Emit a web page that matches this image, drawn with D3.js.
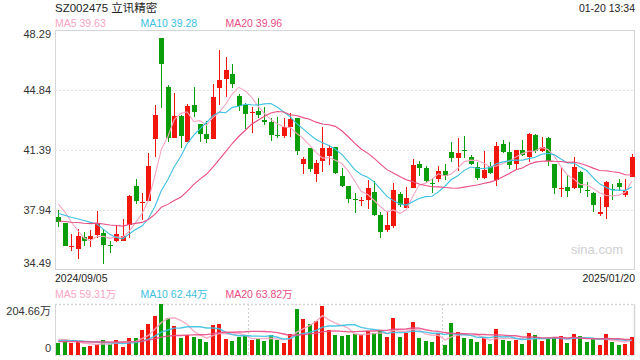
<!DOCTYPE html>
<html><head><meta charset="utf-8">
<script src="https://cdn.jsdelivr.net/npm/d3@7"></script>
<style>body{margin:0;background:#fff}svg{display:block;font-family:Arial,"Liberation Sans","Noto Sans CJK SC",sans-serif}</style>
</head><body><svg id="c" width="640" height="360"></svg>
<script>
const title = "SZ002475 立讯精密";
const timeLabel = "01-20 13:34";
const priceLegend = ["MA5 39.63", "MA10 39.28", "MA20 39.96"];
const volLegend = ["MA5 59.31万", "MA10 62.44万", "MA20 63.82万"];
const priceTicks = [48.29, 44.84, 41.39, 37.94, 34.49];
const volTicks = [204.66, 0];
const volTickLabels = ["204.66万", "0"];
const dateLabels = ["2024/09/05", "2025/01/20"];

const opens = [37.52,37.19,35.81,35.70,36.39,36.27,36.50,36.60,35.95,36.18,36.18,37.08,39.30,38.34,38.48,42.02,47.81,45.01,42.10,43.36,41.87,43.98,42.89,42.29,42.04,44.94,45.45,45.74,44.49,43.98,43.54,43.63,43.12,43.02,42.27,42.20,42.73,43.21,40.59,41.49,40.03,40.78,41.06,41.54,39.90,39.32,38.59,38.48,38.54,38.98,37.65,36.79,37.04,38.86,38.08,39.22,40.57,40.34,39.49,39.72,40.18,41.29,40.95,41.41,40.99,40.41,39.80,40.49,39.67,41.74,41.28,40.60,41.37,41.01,42.25,41.35,42.06,40.59,39.17,39.24,39.19,40.15,39.11,38.94,37.69,38.13,39.15,39.51,38.80,39.86];
const highs = [37.94,37.20,36.54,36.85,36.66,36.81,37.90,36.85,36.16,37.04,37.42,38.80,39.70,38.94,41.20,43.98,47.85,45.13,44.69,43.38,44.02,45.01,42.90,43.08,45.20,47.14,46.76,46.32,44.59,44.11,43.88,44.40,43.84,43.21,43.27,43.25,43.50,43.22,40.97,41.50,40.80,42.69,41.68,41.55,40.34,39.33,38.90,38.71,39.65,39.61,37.81,37.84,39.49,39.00,39.28,40.85,40.76,40.49,39.80,40.49,40.57,41.87,42.06,42.20,41.10,40.68,41.35,40.72,41.87,41.97,41.85,41.40,41.97,42.39,42.31,42.12,42.14,40.60,40.43,39.95,41.01,40.16,39.57,38.95,38.71,39.61,39.45,39.72,39.72,41.18];
const lows = [36.98,35.85,35.58,35.12,35.85,35.83,36.31,34.85,35.45,36.08,36.16,36.31,38.29,37.37,38.46,41.01,43.79,41.83,42.08,41.53,41.85,43.31,41.83,41.77,42.00,43.98,44.46,44.97,43.65,42.60,42.35,43.25,42.83,41.91,42.10,42.10,42.16,41.10,40.01,40.15,39.53,40.11,40.53,39.99,39.28,38.32,37.75,38.19,38.02,37.61,36.31,36.69,36.93,38.13,38.07,39.19,39.91,39.47,38.94,39.53,39.67,40.68,40.20,40.95,40.53,39.67,39.70,39.99,39.34,41.20,40.30,40.30,41.06,40.68,41.24,41.29,40.49,38.86,38.71,38.71,39.13,38.90,38.67,37.84,37.61,37.42,38.54,39.05,38.69,39.86];
const closes = [37.23,35.89,35.89,36.46,36.16,36.46,37.12,35.93,35.87,36.54,36.45,38.75,38.48,38.42,40.47,43.40,46.34,42.10,43.36,42.21,43.92,43.56,42.33,42.02,44.44,45.42,45.97,45.20,43.94,43.44,43.58,43.40,43.02,42.25,42.24,42.73,43.15,41.35,40.85,40.30,40.64,41.49,41.49,40.09,39.34,38.55,38.55,38.54,39.21,37.65,36.69,37.08,39.09,38.23,38.63,40.53,40.38,39.61,39.42,40.18,39.91,40.95,41.22,41.35,40.60,39.80,40.24,40.09,41.62,41.29,40.51,41.39,41.10,42.31,41.35,41.54,40.78,39.22,39.21,39.05,40.39,39.19,39.05,38.23,37.81,39.57,39.11,39.26,39.03,40.99];
const volumes = [49.5,56.2,46.8,52.2,32.1,36.1,44.1,60.2,44.1,60.2,32.1,68.2,68.2,100.3,123.1,156.5,204.66,147.1,116.4,68.2,80.3,72.2,64.2,53.5,120.4,124.4,64.2,54.8,72.2,77.6,61.5,62.9,56.2,78.9,60.2,49.5,85.6,184.6,144.5,124.4,136.4,198.0,100.3,81.6,77.6,81.6,85.6,78.9,95.0,88.3,96.3,72.2,148.5,72.2,88.3,132.4,68.2,56.2,52.2,87.0,40.1,128.4,92.3,68.2,64.2,52.2,69.6,44.1,104.3,60.2,56.2,60.2,44.1,88.3,80.3,56.2,68.2,68.2,76.2,48.2,84.3,76.2,52.2,64.2,40.1,84.3,52.2,40.1,44.1,72.2];
// sessions before the visible window (only used for the moving averages)
const preCloses = [36.5,36.7,36.9,37.0,36.8,36.6,36.9,37.1,37.0,37.17,37.0,37.1,37.3,37.2,37.5,38.1,38.8,38.9,38.4];
const preVolumes = [45,52,48,50,55,47,51,49,50,48,50,54,49,55,52.5,60,72,68,65];

const n = closes.length;
const idx = d3.range(n);
const svg = d3.select("#c");
const L = 55, R = 635, PT = 30, PB = 270, VT = 304, VB = 355;
const red = "#f2170c", green = "#0a9f0a";
const maColors = ["#f7a6c3", "#3dc1e2", "#ea4c84"];
const maPeriods = [5, 10, 20];

const x = d3.scaleBand().domain(idx).range([L, R]).paddingInner(0.22).paddingOuter(0.11);
const cx = i => x(i) + x.bandwidth() / 2;
const y = d3.scaleLinear().domain([34.49, 48.29]).range([PB, PT]);
const yv = d3.scaleLinear().domain([0, 204.66]).range([VB, VT]);

function ma(all, pre, p) {
  const full = pre.concat(all);
  return all.map((_, i) => d3.mean(full.slice(i + pre.length - p + 1, i + pre.length + 1)));
}

// price panel frame and grid
svg.append("rect").attr("x", L + 0.5).attr("y", PT + 0.5).attr("width", R - L - 1).attr("height", PB - PT - 1)
  .attr("fill", "none").attr("stroke", "#d6d6d6");
svg.append("g").selectAll("line").data(priceTicks.slice(1, -1)).join("line")
  .attr("x1", L).attr("x2", R).attr("y1", d => Math.round(y(d)) + 0.5).attr("y2", d => Math.round(y(d)) + 0.5)
  .attr("stroke", "#e2e2e2").attr("stroke-dasharray", "2,2");

// price axis labels
svg.append("g").selectAll("text").data(priceTicks).join("text")
  .attr("x", 51).attr("y", (d, i) => i === 0 ? y(d) + 8 : i === priceTicks.length - 1 ? y(d) - 3 : y(d) + 4)
  .attr("text-anchor", "end").attr("font-size", 11).attr("fill", "#333").text(d => d.toFixed(2));

// watermark
svg.append("text").attr("x", 623).attr("y", 254).attr("text-anchor", "end").attr("font-size", 13)
  .attr("fill", "#d0d0d0").text("sina.com");

// candles
const cg = svg.append("g").attr("shape-rendering", "crispEdges");
cg.selectAll("line").data(idx).join("line")
  .attr("x1", i => Math.round(cx(i)) + 0.5).attr("x2", i => Math.round(cx(i)) + 0.5)
  .attr("y1", i => y(highs[i])).attr("y2", i => y(lows[i]))
  .attr("stroke", i => closes[i] >= opens[i] ? red : green);
cg.selectAll("rect").data(idx).join("rect")
  .attr("x", i => Math.round(cx(i)) - 2).attr("width", 5)
  .attr("y", i => y(Math.max(opens[i], closes[i])))
  .attr("height", i => Math.max(1, Math.abs(y(opens[i]) - y(closes[i]))))
  .attr("fill", i => closes[i] >= opens[i] ? red : green);

// price MAs
const line = d3.line().x((d, i) => cx(i)).y(d => y(d));
maPeriods.forEach((p, k) => {
  svg.append("path").attr("d", line(ma(closes, preCloses, p))).attr("fill", "none")
    .attr("stroke", maColors[k]).attr("stroke-width", 1.1);
});

// texts
svg.append("text").attr("x", 55).attr("y", 12).attr("font-size", 11.5).attr("fill", "#222").text(title);
svg.append("text").attr("x", 635).attr("y", 12).attr("text-anchor", "end").attr("font-size", 10.5).attr("fill", "#222").text(timeLabel);
const legX = [55, 140.5, 225.5];
priceLegend.forEach((t, k) => svg.append("text").attr("x", legX[k]).attr("y", 27).attr("font-size", 10.5).attr("fill", maColors[k]).text(t));
svg.append("text").attr("x", 55).attr("y", 282).attr("font-size", 10.5).attr("fill", "#222").text(dateLabels[0]);
svg.append("text").attr("x", 635).attr("y", 282).attr("text-anchor", "end").attr("font-size", 10.5).attr("fill", "#222").text(dateLabels[1]);
volLegend.forEach((t, k) => svg.append("text").attr("x", legX[k]).attr("y", 298).attr("font-size", 10.5).attr("fill", maColors[k]).text(t));

// volume panel frame
const vg = svg.append("g");
vg.append("line").attr("x1", L).attr("x2", R).attr("y1", VT + 0.5).attr("y2", VT + 0.5).attr("stroke", "#d6d6d6").attr("stroke-width", 1.5).attr("stroke-dasharray", "2,2");
vg.append("line").attr("x1", L).attr("x2", R).attr("y1", VB + 0.5).attr("y2", VB + 0.5).attr("stroke", "#d6d6d6").attr("stroke-width", 1.5).attr("stroke-dasharray", "2,2");
[L + (R - L) / 3, L + 2 * (R - L) / 3].forEach(xx => vg.append("line").attr("x1", Math.round(xx) + 0.5).attr("x2", Math.round(xx) + 0.5)
  .attr("y1", VT).attr("y2", VB).attr("stroke", "#d0d0d0").attr("stroke-dasharray", "2,2"));
vg.append("line").attr("x1", L + 0.5).attr("x2", L + 0.5).attr("y1", VT).attr("y2", VB).attr("stroke", "#d6d6d6");
vg.append("line").attr("x1", R - 0.5).attr("x2", R - 0.5).attr("y1", VT).attr("y2", VB).attr("stroke", "#d6d6d6").attr("stroke-width", 1.5);

svg.append("g").selectAll("text").data(volTicks).join("text")
  .attr("x", 51).attr("y", (d, i) => i === 0 ? yv(d) + 11 : yv(d) - 3)
  .attr("text-anchor", "end").attr("font-size", 11).attr("fill", "#333").text((d, i) => volTickLabels[i]);

svg.append("g").attr("shape-rendering", "crispEdges").selectAll("rect").data(idx).join("rect")
  .attr("x", i => Math.round(cx(i)) - 2).attr("width", 4)
  .attr("y", i => yv(volumes[i])).attr("height", i => yv(0) - yv(volumes[i]))
  .attr("fill", i => closes[i] >= opens[i] ? red : green);

const vline = d3.line().x((d, i) => cx(i)).y(d => yv(d));
maPeriods.forEach((p, k) => {
  svg.append("path").attr("d", vline(ma(volumes, preVolumes, p))).attr("fill", "none")
    .attr("stroke", maColors[k]).attr("stroke-width", 1.4).attr("stroke-opacity", 0.9);
});
</script></body></html>
